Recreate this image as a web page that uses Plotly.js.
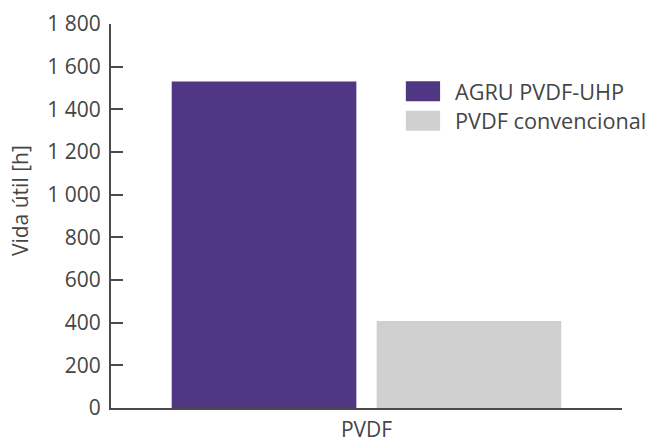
<!DOCTYPE html>
<html>
<head>
<meta charset="utf-8">
<script src="https://cdn.plot.ly/plotly-3.0.1.min.js"></script>
<style>html,body{margin:0;padding:0;background:#fff;}#chart{width:649px;height:445px;}</style>
</head>
<body>
<div id="chart"></div>
<script>
const categories = ["PVDF"];
const seriesNames = ["AGRU PVDF-UHP", "PVDF convencional"];
const seriesValues = [[1530], [408]];
const seriesColors = ["#4f3783", "#d0d0d0"];
const yTickVals = [0, 200, 400, 600, 800, 1000, 1200, 1400, 1600, 1800];
const yTitle = "Vida útil [h]";

const textColor = "#454545";
const lineColor = "#4a4a4a";
const fontFamily = "'Open Sans', 'Noto Sans', sans-serif";

const traces = seriesNames.map((name, i) => ({
  type: "bar",
  name: name,
  x: categories,
  y: seriesValues[i],
  marker: {color: seriesColors[i], line: {width: 0}},
  showlegend: false,
  hoverinfo: "skip"
}));

// custom legend (swatches + labels) in paper coordinates
const shapes = [];
const annotations = [];
seriesNames.forEach((name, i) => {
  const top = 0.851 - i * 0.077;
  shapes.push({
    type: "rect", xref: "paper", yref: "paper",
    x0: 0.577, x1: 0.644, y0: top - 0.052, y1: top,
    fillcolor: seriesColors[i], line: {width: 0}
  });
  annotations.push({
    xref: "paper", yref: "paper", x: 0.669, y: top - 0.026,
    xanchor: "left", yanchor: "middle", showarrow: false,
    text: name, font: {family: fontFamily, size: 21.7, color: textColor}
  });
});

// y-axis title as rotated annotation (positioned like the reference)
annotations.push({
  xref: "paper", yref: "paper", x: -0.178, y: 0.539,
  xanchor: "center", yanchor: "middle", showarrow: false, textangle: -90,
  text: yTitle, font: {family: fontFamily, size: 21, color: textColor}
});

const layout = {
  width: 649, height: 445,
  margin: {l: 111, r: 27, t: 24, b: 37},
  paper_bgcolor: "#fff", plot_bgcolor: "#fff",
  separators: ", ",
  barmode: "group",
  bargap: 0.198,
  bargroupgap: 0.099,
  showlegend: false,
  font: {family: fontFamily, color: textColor},
  xaxis: {
    type: "category",
    showline: true, linecolor: lineColor, linewidth: 2,
    ticks: "inside", tickson: "boundaries", ticklen: 8, tickwidth: 2, tickcolor: lineColor,
    ticklabelstandoff: 2,
    showgrid: false, zeroline: false,
    tickfont: {size: 21, color: textColor},
    fixedrange: true
  },
  yaxis: {
    range: [0, 1800],
    tickvals: yTickVals,
    separatethousands: true,
    showline: true, linecolor: lineColor, linewidth: 2,
    ticks: "inside", ticklen: 12, tickwidth: 2, tickcolor: lineColor,
    ticklabelstandoff: 4,
    showgrid: false, zeroline: false,
    tickfont: {size: 21, color: textColor},
    fixedrange: true
  },
  shapes: shapes,
  annotations: annotations
};

Plotly.newPlot("chart", traces, layout, {displayModeBar: false, staticPlot: true});
</script>
</body>
</html>
